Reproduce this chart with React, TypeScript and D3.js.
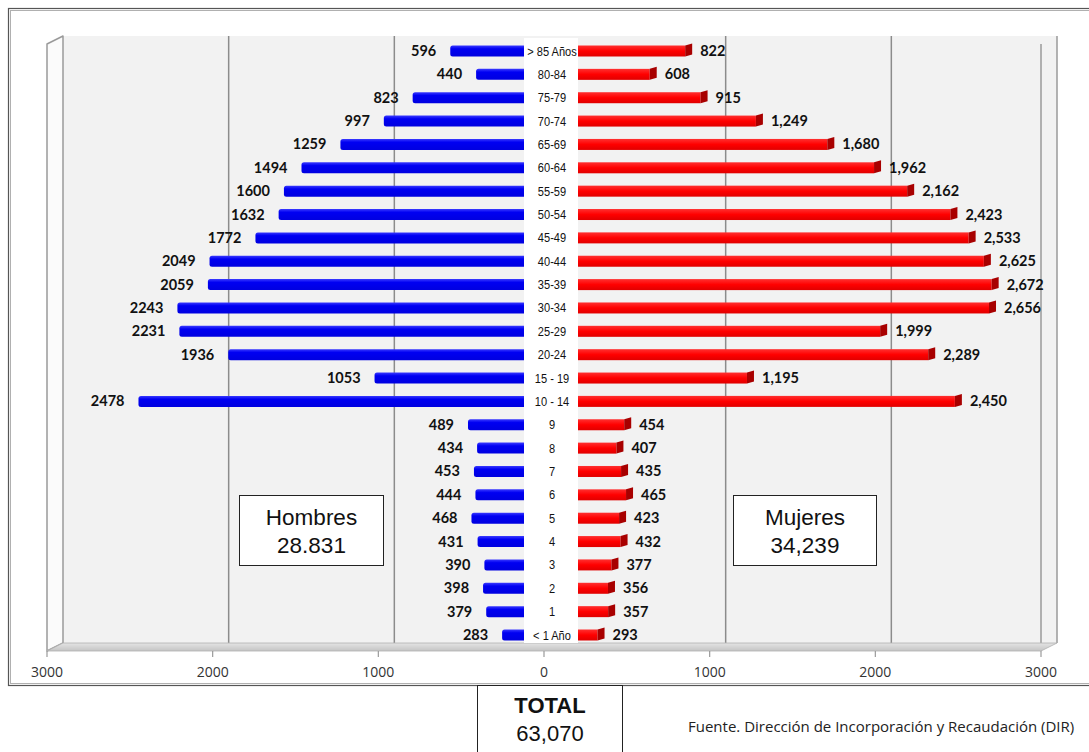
import React from 'react';
import * as d3 from 'd3';

const categories = [
  '> 85 Años', '80-84', '75-79', '70-74', '65-69', '60-64', '55-59', '50-54', '45-49',
  '40-44', '35-39', '30-34', '25-29', '20-24', '15 - 19', '10 - 14',
  '9', '8', '7', '6', '5', '4', '3', '2', '1', '< 1 Año',
];
const hombres = [596, 440, 823, 997, 1259, 1494, 1600, 1632, 1772, 2049, 2059, 2243, 2231, 1936, 1053, 2478, 489, 434, 453, 444, 468, 431, 390, 398, 379, 283];
const mujeres = [822, 608, 915, 1249, 1680, 1962, 2162, 2423, 2533, 2625, 2672, 2656, 1999, 2289, 1195, 2450, 454, 407, 435, 465, 423, 432, 377, 356, 357, 293];
const axisTicks = [-3000, -2000, -1000, 0, 1000, 2000, 3000];
const gridTicks = [-2000, -1000, 1000, 2000];
const boxHombres = ['Hombres', '28.831'];
const boxMujeres = ['Mujeres', '34,239'];
const totalLabel = ['TOTAL', '63,070'];
const sourceText = 'Fuente. Dirección de Incorporación y Recaudación (DIR)';

export default function App() {
  const W = 1089;
  const H = 752;
  const x = d3.scaleLinear().domain([-3000, 3000]).range([47, 1041]);
  const dx = 16;
  const dy = 8;
  const floorY = 651;
  const topY = 44;
  const y = d3.scalePoint<string>().domain(categories).range([51, 635]);
  const barH = 11;
  const barOff = 5;
  const cap = 7;
  const fmtM = d3.format(',');
  const x0 = x(0);

  return (
    <svg width={W} height={H} style={{ position: 'absolute', left: 0, top: 0, background: '#fff' }}
      fontFamily="'Liberation Sans', Arial, sans-serif">
      <defs>
        <linearGradient id="redG" x1="0" y1="0" x2="0" y2="1">
          <stop offset="0" stopColor="#ff3030" />
          <stop offset="0.5" stopColor="#ff0000" />
          <stop offset="1" stopColor="#e00000" />
        </linearGradient>
        <linearGradient id="blueG" x1="0" y1="0" x2="0" y2="1">
          <stop offset="0" stopColor="#3a3aff" />
          <stop offset="0.3" stopColor="#0000f2" />
          <stop offset="1" stopColor="#0000e0" />
        </linearGradient>
        <linearGradient id="floorG" x1="0" y1="0" x2="0" y2="1">
          <stop offset="0" stopColor="#e4e4e4" />
          <stop offset="1" stopColor="#c4c4c4" />
        </linearGradient>
      </defs>

      {/* outer frame */}
      <rect x={8.5} y={8.5} width={1200} height={677} fill="#fff" stroke="#555" strokeWidth={1.2} />
      <rect x={10.5} y={10.5} width={1200} height={673} fill="none" stroke="#b0b0b0" strokeWidth={1} />

      {/* back wall */}
      <rect x={x(-3000) + dx} y={topY - dy} width={x(3000) - x(-3000)} height={floorY - topY} fill="#f2f2f2" />

      {/* left side wall */}
      <polygon
        points={`${x(-3000)},${topY} ${x(-3000) + dx},${topY - dy} ${x(-3000) + dx},${floorY - dy} ${x(-3000)},${floorY}`}
        fill="#fbfbfb" stroke="#9a9a9a" strokeWidth={1.5} strokeLinejoin="round" />
      {/* right side wall lines */}
      <line x1={x(3000)} x2={x(3000)} y1={topY} y2={floorY} stroke="#9a9a9a" strokeWidth={1.5} />
      <line x1={x(3000) + dx} x2={x(3000) + dx} y1={topY - dy} y2={floorY - dy} stroke="#9a9a9a" strokeWidth={1.5} />

      {/* gridlines on back wall and floor */}
      {gridTicks.map((t) => (
        <g key={'g' + t}>
          <line x1={x(t) + dx} x2={x(t) + dx} y1={topY - dy} y2={floorY - dy} stroke="#8c8c8c" strokeWidth={1.5} />
          <line x1={x(t) + dx} x2={x(t)} y1={floorY - dy} y2={floorY} stroke="#a0a0a0" strokeWidth={1} />
        </g>
      ))}

      {/* floor */}
      <polygon
        points={`${x(-3000)},${floorY} ${x(-3000) + dx},${floorY - dy} ${x(3000) + dx},${floorY - dy} ${x(3000)},${floorY}`}
        fill="url(#floorG)" stroke="#b0b0b0" strokeWidth={0.8} />

      {/* ticks and labels */}
      {axisTicks.map((t) => (
        <g key={'t' + t}>
          <line x1={x(t)} x2={x(t)} y1={floorY} y2={floorY + 6} stroke="#9a9a9a" strokeWidth={1.2} />
          <text x={x(t)} y={677} textAnchor="middle" fontSize={14} fill="#333"
            fontFamily="'Open Sans', sans-serif">{Math.abs(t)}</text>
        </g>
      ))}

      {/* bars */}
      {categories.map((c, i) => {
        const cy = y(c) as number;
        const top = cy - barH / 2;
        const hv = hombres[i];
        const mv = mujeres[i];
        const bl = x(-hv) + barOff;
        const re = x(mv) + barOff;
        return (
          <g key={'b' + c}>
            <rect x={bl} y={top} width={x0 + barOff - bl} height={barH} rx={2.5} fill="url(#blueG)" />
            <rect x={x0 + barOff} y={top} width={re - x0 - barOff} height={barH} fill="url(#redG)" />
            <polygon points={`${re},${top} ${re + cap},${top - 2} ${re + cap},${top + barH - 2} ${re},${top + barH}`}
              fill="#a80000" />
          </g>
        );
      })}

      {/* white center column for category labels */}
      <rect x={x0 - 20} y={topY - 6} width={54} height={floorY - dy - topY + 6} fill="#fff" />

      {categories.map((c, i) => {
        const cy = y(c) as number;
        const hv = hombres[i];
        const mv = mujeres[i];
        return (
          <g key={'l' + c}>
            <text transform={`translate(${x0 + 8},${cy + 4.5}) scale(0.82,1)`} textAnchor="middle"
              fontSize={13.5} fill="#111">{c}</text>
            <text x={x(-hv) + barOff - 14} y={cy + 5} textAnchor="end" fontSize={14.5} fontWeight="bold"
              fontFamily="Lato, sans-serif" fill="#111">{hv}</text>
            <text x={x(mv) + barOff + cap + 8} y={cy + 5} textAnchor="start" fontSize={14.5} fontWeight="bold"
              fontFamily="Lato, sans-serif" fill="#111">{fmtM(mv)}</text>
          </g>
        );
      })}

      {/* Hombres box */}
      <rect x={239.5} y={495.5} width={144} height={70} fill="#fff" stroke="#222" strokeWidth={1} />
      <text x={311.5} y={525} textAnchor="middle" fontSize={22.5} fill="#111">{boxHombres[0]}</text>
      <text x={311.5} y={553} textAnchor="middle" fontSize={22.5} fill="#111">{boxHombres[1]}</text>

      {/* Mujeres box */}
      <rect x={733.5} y={495.5} width={143} height={70} fill="#fff" stroke="#222" strokeWidth={1} />
      <text x={805} y={525} textAnchor="middle" fontSize={22.5} fill="#111">{boxMujeres[0]}</text>
      <text x={805} y={553} textAnchor="middle" fontSize={22.5} fill="#111">{boxMujeres[1]}</text>

      {/* TOTAL box */}
      <rect x={477.5} y={685.5} width={145} height={80} fill="#fff" stroke="#222" strokeWidth={1} />
      <text x={550} y={713} textAnchor="middle" fontSize={22} fontWeight="bold" fill="#111">{totalLabel[0]}</text>
      <text x={550} y={741} textAnchor="middle" fontSize={22} fill="#111">{totalLabel[1]}</text>

      <text x={688} y={732} fontSize={15} fill="#222" fontFamily="'Open Sans', sans-serif">{sourceText}</text>
    </svg>
  );
}
